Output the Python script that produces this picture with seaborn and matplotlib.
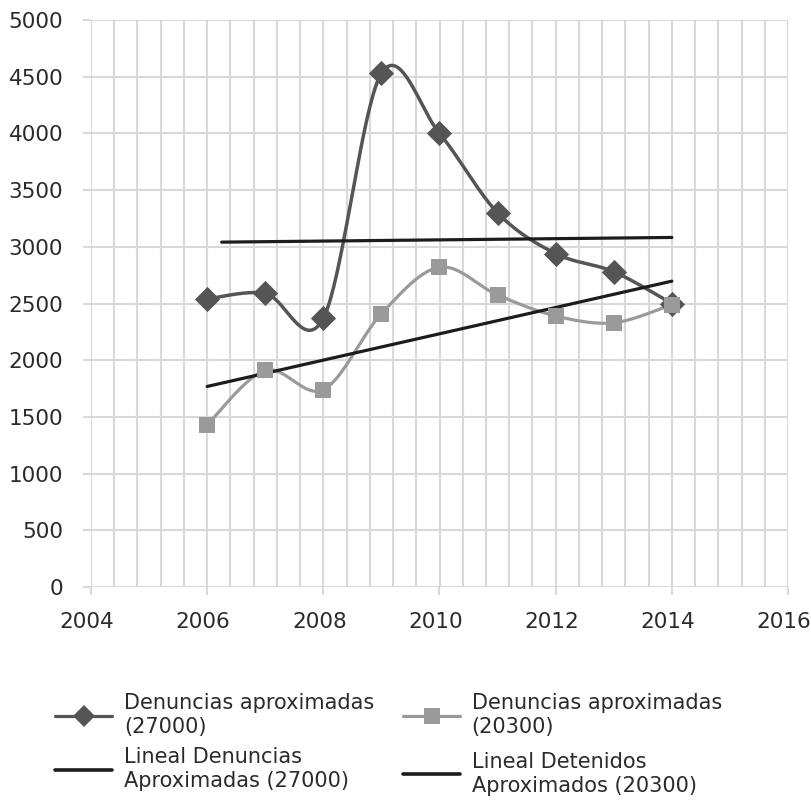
import numpy as np
import pandas as pd
import matplotlib
matplotlib.use("Agg")
import matplotlib.pyplot as plt
import matplotlib.transforms as mtransforms
from matplotlib.lines import Line2D
import seaborn as sns

# Annual series
years = [2006, 2007, 2008, 2009, 2010, 2011, 2012, 2013, 2014]
denuncias_27000 = [2540, 2590, 2370, 4530, 4000, 3300, 2940, 2780, 2500]
denuncias_20300 = [1430, 1910, 1740, 2410, 2820, 2575, 2390, 2330, 2490]

# Spans over which each linear trend is drawn
trend_span_27000 = [2006.25, 2014]
trend_span_20300 = [2006, 2014]

x_ticks = [2004, 2006, 2008, 2010, 2012, 2014, 2016]
y_ticks = [0, 500, 1000, 1500, 2000, 2500, 3000, 3500, 4000, 4500, 5000]

labels = [
    "Denuncias aproximadas\n(27000)",
    "Denuncias aproximadas\n(20300)",
    "Lineal Denuncias\nAproximadas (27000)",
    "Lineal Detenidos\nAproximados (20300)",
]

DARK = "#555555"
LIGHT = "#9a9a9a"
TREND = "#1c1c1c"
GRID = "#d9d9d9"
TEXT = "#2b2b2b"

sns.set_theme(style="white")
plt.rcParams["font.family"] = ["DejaVu Sans"]


def smooth_curve(xs, ys, n=40):
    """Bezier smoothing through every point (Catmull-Rom control points)."""
    pts = np.column_stack([xs, ys]).astype(float)
    ext = np.vstack([pts[0], pts, pts[-1]])
    t = np.linspace(0, 1, n)[:, None]
    parts = []
    for i in range(len(pts) - 1):
        p0, p1, p2, p3 = ext[i], ext[i + 1], ext[i + 2], ext[i + 3]
        c1 = p1 + (p2 - p0) / 6
        c2 = p2 - (p3 - p1) / 6
        seg = ((1 - t) ** 3) * p1 + 3 * ((1 - t) ** 2) * t * c1 + 3 * (1 - t) * t ** 2 * c2 + t ** 3 * p2
        parts.append(seg if i == 0 else seg[1:])
    out = np.vstack(parts)
    return pd.DataFrame({"x": out[:, 0], "y": out[:, 1]})


fig = plt.figure(figsize=(8.12, 8.0), dpi=100)
ax = fig.add_axes([91 / 812, 1 - 587 / 800, (788 - 91) / 812, (587 - 20) / 800])

ax.set_xlim(2004, 2016)
ax.set_ylim(0, 5000)

# grid: vertical lines every 0.4 year, horizontal every 500
for gx in np.arange(2004, 2016.001, 0.4):
    ax.axvline(gx, color=GRID, lw=1.5, zorder=0)
for gy in y_ticks:
    ax.axhline(gy, color=GRID, lw=1.5, zorder=0)

for s in ax.spines.values():
    s.set_visible(False)

ax.set_xticks(x_ticks)
ax.set_yticks(y_ticks)
ax.set_xticklabels([str(v) for v in x_ticks])
ax.set_yticklabels([str(v) for v in y_ticks])
ax.tick_params(axis="both", which="major", direction="out", length=6, width=1.5,
               color=GRID, labelcolor=TEXT, labelsize=15.5)
ax.tick_params(axis="x", pad=12)
ax.tick_params(axis="y", pad=14)
ax.xaxis.set_ticks_position("bottom")
ax.yaxis.set_ticks_position("left")
shift = mtransforms.ScaledTranslation(-4 / 100, 0, fig.dpi_scale_trans)
for lab in ax.get_xticklabels():
    lab.set_transform(lab.get_transform() + shift)

df1 = pd.DataFrame({"year": years, "value": denuncias_27000})
df2 = pd.DataFrame({"year": years, "value": denuncias_20300})

# smoothed series lines
sns.lineplot(data=smooth_curve(years, denuncias_27000), x="x", y="y", sort=False,
             estimator=None, color=DARK, lw=2.5, ax=ax, zorder=3)
sns.lineplot(data=smooth_curve(years, denuncias_20300), x="x", y="y", sort=False,
             estimator=None, color=LIGHT, lw=2.3, ax=ax, zorder=3)

# linear trends
for vals, span in ((denuncias_27000, trend_span_27000), (denuncias_20300, trend_span_20300)):
    slope, icpt = np.polyfit(years, vals, 1)
    tx = np.array(span, dtype=float)
    sns.lineplot(x=tx, y=slope * tx + icpt, color=TREND, lw=2.3, ax=ax, zorder=4)

# markers
sns.scatterplot(data=df1, x="year", y="value", marker="D", s=165, color=DARK,
                edgecolor=DARK, linewidth=0, ax=ax, zorder=5)
sns.scatterplot(data=df2, x="year", y="value", marker="s", s=145, color=LIGHT,
                edgecolor=LIGHT, linewidth=0, ax=ax, zorder=6)

ax.set_xlabel("")
ax.set_ylabel("")

h1 = Line2D([], [], color=DARK, lw=2.3, marker="D", markersize=11, markeredgewidth=0)
h2 = Line2D([], [], color=LIGHT, lw=2.3, marker="s", markersize=11, markeredgewidth=0)
h3 = Line2D([], [], color=TREND, lw=2.6)
h4 = Line2D([], [], color=TREND, lw=2.6)

common = dict(frameon=False, handlelength=2.75, handletextpad=0.55, borderpad=0,
              borderaxespad=0, loc="upper left", prop={"size": 15})
leg1 = fig.legend([h1, h3], [labels[0], labels[2]], bbox_to_anchor=(55 / 812, 1 - 693 / 800),
                  labelspacing=0.5, **common)
leg2 = fig.legend([h2, h4], [labels[1], labels[3]], bbox_to_anchor=(403 / 812, 1 - 693 / 800),
                  labelspacing=0.7, **common)
for lg in (leg1, leg2):
    for t in lg.get_texts():
        t.set_color(TEXT)
        t.set_linespacing(1.25)

fig.savefig("out.png", dpi=100)
